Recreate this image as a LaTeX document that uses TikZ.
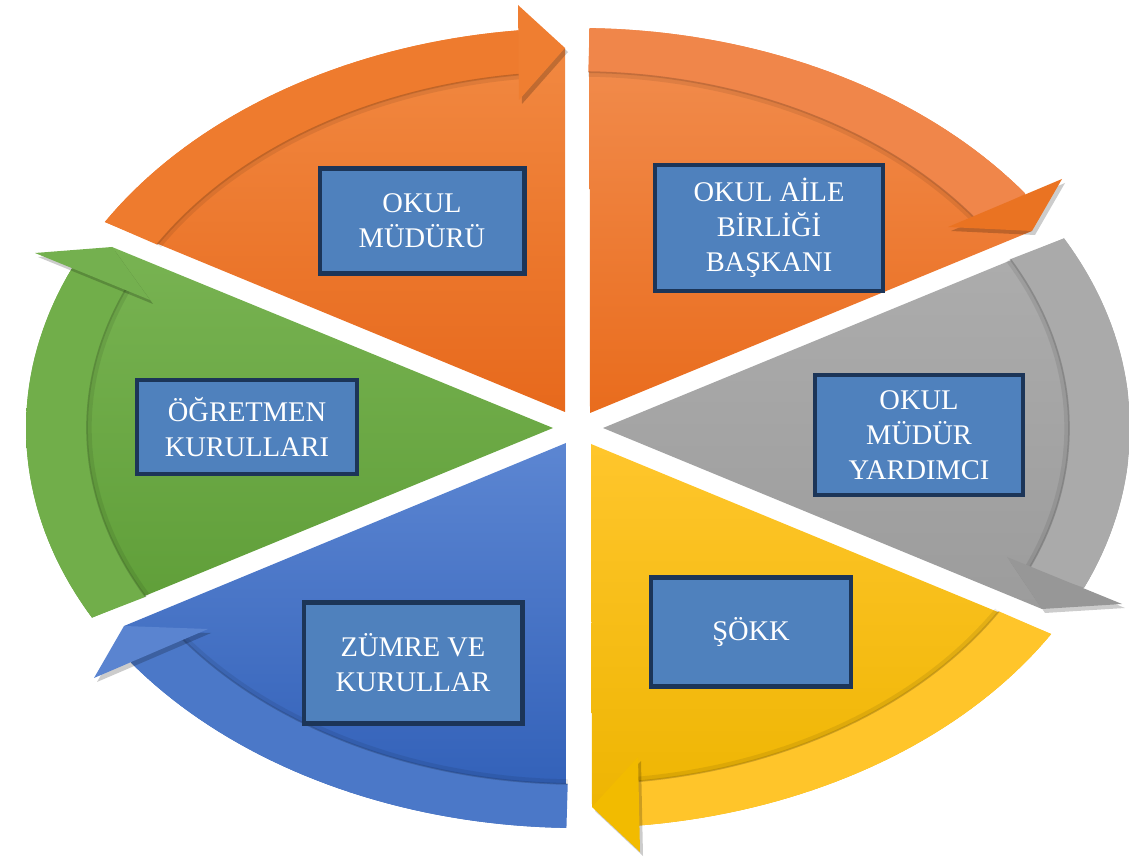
\documentclass[tikz,border=0pt]{standalone}
\usepackage{fontspec}
\setmainfont{Liberation Serif}
\definecolor{boxfill}{HTML}{4F81BD}
\definecolor{boxline}{HTML}{1C3558}
\begin{document}
\begin{tikzpicture}[x=0.02cm,y=-0.02cm,
    box/.style={draw=boxline,fill=boxfill,line width=2.3pt,text=white,align=center,
      font=\fontsize{16.2}{19.8}\selectfont,inner sep=0pt},
    headshadow/.style={fill=black,opacity=.2,shift={(3,4)}}]
\useasboundingbox (0,0) rectangle (1129,857);
\foreach \ax/\ay/\tail/\back/\tx/\ty/\ox/\oy/\ix/\iy/\ctop/\cbot/\cband/\chead in {
    565/412/149/96.2/565/48/518/5/519/100/F28A43/E7691C/EE7B2E/EF7E31,
    590/413/88.8/35.9/1032/231/1062/179/948/227/F28E50/E96C1D/F0864A/EA7322,
    603/428/28.3/-23.5/1042/609/1122/604/1007/557/ADADAD/9C9C9C/AAAAAA/979797,
    591/444/-31/-83.8/592/807/640/852/638/757/FFC62C/EDB400/FFC52A/F2BB00,
    566/443/268.8/215.9/124/626/94/678/208/629/5C86D2/2E5DB6/4B78C8/5A84D0,
    553/428/208.3/156.5/112/247/35/253/150/300/78B352/5F9E38/71AE4A/74B04F}{
  \definecolor{ctop}{HTML}{\ctop}\definecolor{cbot}{HTML}{\cbot}
  \definecolor{cband}{HTML}{\cband}\definecolor{chead}{HTML}{\chead}
  \shade[top color=ctop,bottom color=cbot] (\ax,\ay)
    -- plot[domain=\tail:\back,samples=40,variable=\t]({578+552*cos(\t)},{428-400*sin(\t)})
    -- (\tx,\ty) -- cycle;
  \fill[cband] plot[domain=\tail:\back,samples=40,variable=\t]({578+552*cos(\t)},{428-400*sin(\t)})
    -- plot[domain=\back:\tail,samples=40,variable=\t]({578+491*cos(\t)},{428-356*sin(\t)}) -- cycle;
  \draw[black,opacity=.08,line width=3pt]
    plot[domain=\tail:\back,samples=40,variable=\t]({578+489*cos(\t)},{428-354*sin(\t)});
  \draw[black,opacity=.12,line width=1pt]
    plot[domain=\tail:\back,samples=40,variable=\t]({578+491*cos(\t)},{428-356*sin(\t)});
  \fill[headshadow] (\ox,\oy) -- (\tx,\ty) -- (\ix,\iy) -- cycle;
  \fill[chead] (\ox,\oy) -- (\tx,\ty) -- (\ix,\iy) -- cycle;
}
\node[box,minimum width=4.1cm,minimum height=2.1cm] (mudur) at (422,221) {OKUL\\MÜDÜRÜ};
\node[box,minimum width=4.56cm,minimum height=2.52cm] (aile) at (769,228) {OKUL AİLE\\BİRLİĞİ\\BAŞKANI};
\node[box,minimum width=4.16cm,minimum height=2.4cm] (yardimci) at (919,435) {OKUL\\MÜDÜR\\YARDIMCI};
\node[box,minimum width=4cm,minimum height=2.18cm] (sokk) at (751,632) {ŞÖKK};
\node[box,minimum width=4.38cm,minimum height=2.42cm] (zumre) at (413,663) {ZÜMRE VE\\KURULLAR};
\node[box,minimum width=4.4cm,minimum height=1.88cm] (ogretmen) at (247,427) {ÖĞRETMEN\\KURULLARI};
\end{tikzpicture}
\end{document}
